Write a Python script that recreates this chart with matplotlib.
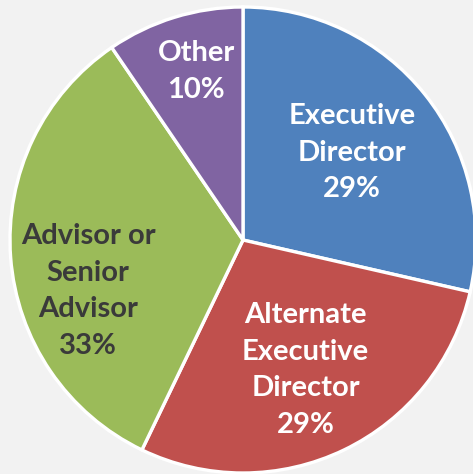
import matplotlib.pyplot as plt
import numpy as np

# headcount by position (share of 21)
categories = ["Executive\nDirector", "Alternate\nExecutive\nDirector", "Advisor or\nSenior\nAdvisor", "Other"]
counts = [6, 6, 7, 2]
pct_labels = ["29%", "29%", "33%", "10%"]

colors = ["#4f81bd", "#c0504d", "#9bbb59", "#8064a2"]
text_colors = ["white", "white", "#3a3a3a", "white"]
label_radius = [0.60, 0.62, 0.70, 0.75]
label_angle_shift = [0.0, 0.0, 14.0, -1.6]

W, H = 473, 474
cx, cy, rad = 243, 240, 233

fig = plt.figure(figsize=(W / 100, H / 100), dpi=100, facecolor="#f2f2f2")
ax = fig.add_axes([0, 0, 1, 1])
ax.set_facecolor("#f2f2f2")

wedges, _ = ax.pie(
    counts,
    colors=colors,
    startangle=90,
    counterclock=False,
    radius=1.0,
    wedgeprops=dict(edgecolor="white", linewidth=2.4),
)

for w, name, pct, tc, r, shift in zip(wedges, categories, pct_labels, text_colors, label_radius, label_angle_shift):
    ang = np.deg2rad((w.theta1 + w.theta2) / 2 + shift)
    ax.text(r * np.cos(ang), r * np.sin(ang), f"{name}\n{pct}", ha="center", va="center",
            color=tc, fontsize=21, fontweight="bold", family="Lato", linespacing=1.5)

ax.set_xlim(-cx / rad, (W - cx) / rad)
ax.set_ylim(-(H - cy) / rad, cy / rad)
ax.set_aspect("auto")
ax.axis("off")

fig.savefig("out.png", dpi=100, facecolor=fig.get_facecolor())
